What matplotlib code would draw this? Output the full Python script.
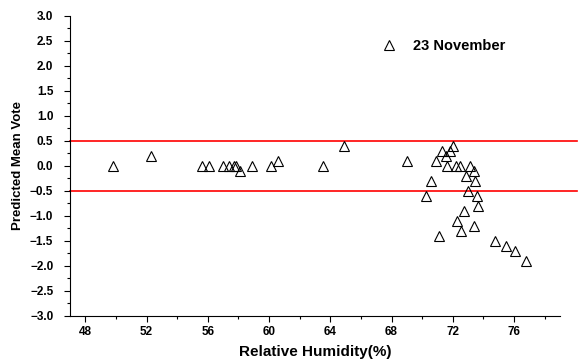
import matplotlib.pyplot as plt
from matplotlib.ticker import MultipleLocator

# Relative humidity (%) and predicted mean vote, 23 November
humidity = [49.8, 52.3, 55.6, 56.1, 57.0, 57.4, 57.7, 57.85, 58.1, 58.9, 60.1, 60.6, 63.5, 64.9,
            69.0, 70.6, 70.25, 70.9, 71.3, 71.8, 71.55, 72.0, 71.65, 72.2, 72.5, 73.1, 73.4,
            72.85, 73.45, 73.0, 73.55, 73.65, 72.7, 72.25, 73.4, 72.55, 71.1, 74.75, 75.45,
            76.05, 76.75]
pmv = [0.0, 0.2, 0.0, 0.0, 0.0, 0.0, 0.0, 0.0, -0.1, 0.0, 0.0, 0.1, 0.0, 0.4,
       0.1, -0.3, -0.6, 0.1, 0.3, 0.3, 0.2, 0.4, 0.0, 0.0, 0.0, 0.0, -0.1,
       -0.2, -0.3, -0.5, -0.6, -0.8, -0.9, -1.1, -1.2, -1.3, -1.4, -1.5, -1.6,
       -1.7, -1.9]
comfort_limits = [0.5, -0.5]

plt.rcParams['font.family'] = ['Liberation Sans', 'DejaVu Sans']
plt.rcParams['font.weight'] = 'bold'

fig = plt.figure(figsize=(5.8, 3.63), dpi=100)
ax = fig.add_axes([0.1207, 0.1295, 0.8448, 0.8265])

for lim in comfort_limits:
    ax.axhline(lim, xmin=0, xmax=1.035, color='red', linewidth=1.2, clip_on=False, zorder=1)

ax.plot(humidity, pmv, linestyle='none', marker='^', markersize=6.5,
        markerfacecolor='none', markeredgecolor='black', markeredgewidth=0.8,
        label='23 November', zorder=3)

ax.set_xlim(47, 79)
ax.set_ylim(-3, 3)
ax.xaxis.set_major_locator(MultipleLocator(4))
ax.xaxis.set_minor_locator(MultipleLocator(2))
ax.yaxis.set_major_locator(MultipleLocator(0.5))
ax.yaxis.set_minor_locator(MultipleLocator(0.25))
ax.tick_params(which='major', direction='out', length=4, width=0.8, labelsize=8.5)
ax.tick_params(which='minor', direction='out', length=2.5, width=0.8)
ax.tick_params(axis='y', which='major', pad=8)
for lab in ax.get_xticklabels() + ax.get_yticklabels():
    lab.set_fontweight('bold')

ax.spines['top'].set_visible(False)
ax.spines['right'].set_visible(False)

ax.set_xlabel('Relative Humidity(%)', fontsize=11, fontweight='bold', labelpad=5)
ax.set_ylabel('Predicted Mean Vote', fontsize=9.5, fontweight='bold', labelpad=4)

ax.legend(loc='upper left', bbox_to_anchor=(0.604, 0.966), frameon=False,
          prop={'size': 10.5, 'weight': 'bold'}, handlelength=1.4, handletextpad=0.9)

fig.savefig('out.png', dpi=100)
